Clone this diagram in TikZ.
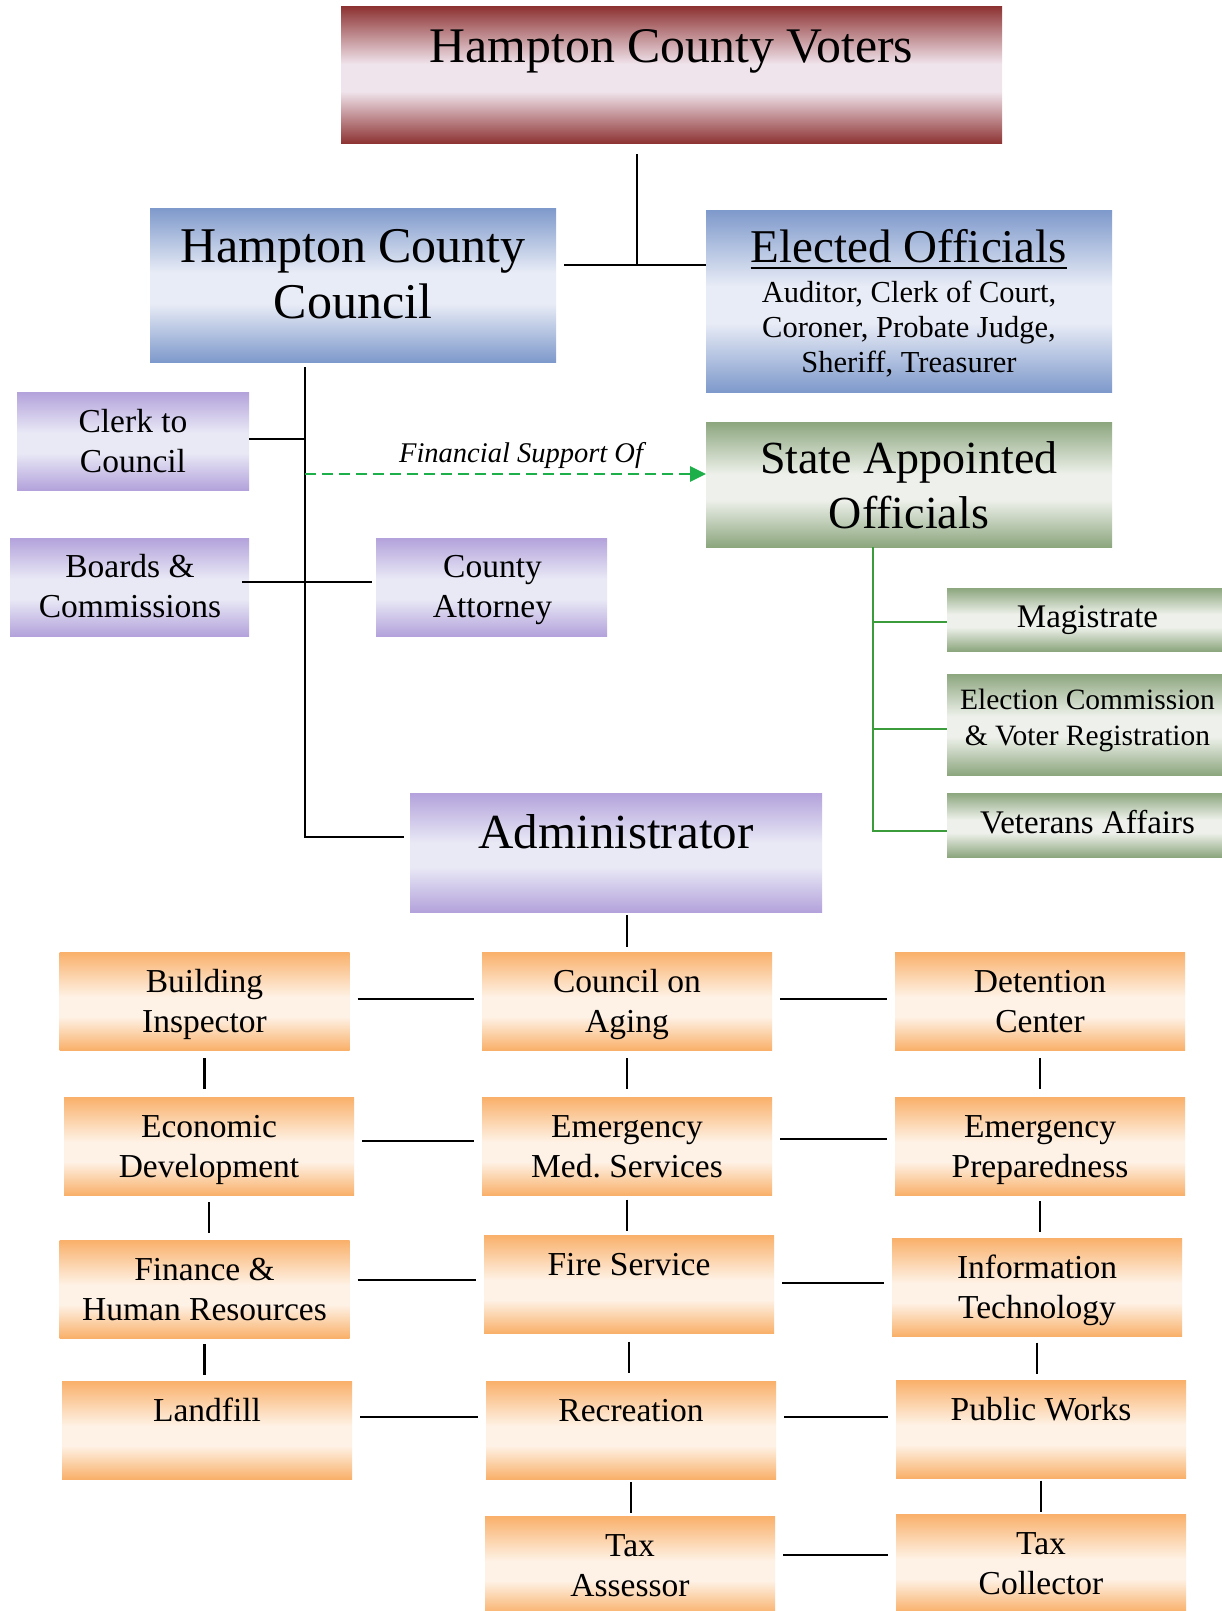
\documentclass[tikz,border=0pt]{standalone}
\usepackage{fontspec}
\setmainfont{Liberation Serif}
\usetikzlibrary{arrows.meta,calc}
\definecolor{vEdge}{HTML}{8E3434}\definecolor{vLight}{HTML}{F0E4EC}
\definecolor{bEdge}{HTML}{7E99CB}\definecolor{bLight}{HTML}{E8ECF6}
\definecolor{pEdge}{HTML}{B3A2DB}\definecolor{pLight}{HTML}{E9E9F6}
\definecolor{gEdge}{HTML}{8CA67E}\definecolor{gLight}{HTML}{EEF1EB}
\definecolor{oEdge}{HTML}{F9B06A}\definecolor{oLight}{HTML}{FEF2E6}
\definecolor{gLine}{HTML}{3A9C3A}
\definecolor{finGreen}{HTML}{1DB04A}
\pgfdeclareverticalshading{shV}{100bp}{color(0bp)=(vEdge); color(25bp)=(vEdge); color(44bp)=(vLight); color(54bp)=(vLight); color(75bp)=(vEdge); color(100bp)=(vEdge)}
\pgfdeclareverticalshading{shB}{100bp}{color(0bp)=(bEdge); color(25bp)=(bEdge); color(44bp)=(bLight); color(54bp)=(bLight); color(75bp)=(bEdge); color(100bp)=(bEdge)}
\pgfdeclareverticalshading{shP}{100bp}{color(0bp)=(pEdge); color(25bp)=(pEdge); color(44bp)=(pLight); color(54bp)=(pLight); color(75bp)=(pEdge); color(100bp)=(pEdge)}
\pgfdeclareverticalshading{shG}{100bp}{color(0bp)=(gEdge); color(25bp)=(gEdge); color(44bp)=(gLight); color(54bp)=(gLight); color(75bp)=(gEdge); color(100bp)=(gEdge)}
\pgfdeclareverticalshading{shO}{100bp}{color(0bp)=(oEdge); color(25bp)=(oEdge); color(42bp)=(oLight); color(52bp)=(oLight); color(75bp)=(oEdge); color(100bp)=(oEdge)}
\newcommand\setfs[2]{\fontsize{#1}{#2}\selectfont}
\tikzset{
  conn/.style={line width=2.9pt, draw=black},
  gconn/.style={line width=2.8pt, draw=gLine},
  finarrow/.style={line width=2.8pt, draw=finGreen, dash pattern=on 11pt off 6pt, -{Triangle[length=16pt,width=15pt,fill=finGreen]}},
  bx/.style={rectangle, draw=none, inner sep=0pt, outer sep=0pt, shade},
  vbx/.style={bx, shading=shV},
  bbx/.style={bx, shading=shB},
  pbx/.style={bx, shading=shP},
  gbx/.style={bx, shading=shG},
  obx/.style={bx, shading=shO, minimum width=290pt, minimum height=98pt},
  lbl/.style={anchor=base, inner sep=0pt, align=flush center, text width=700pt, execute at begin node=\frenchspacing},
  otxt/.style={lbl, font=\setfs{33.5}{40}},
}
\newcommand\orangebox[4]{%
  \node[obx] (#1) at (#2,#3+49) {};
  \node[otxt] (#1-t) at (#2,#3+40) {#4};}
\begin{document}
\begin{tikzpicture}[x=1pt,y=-1pt]
\useasboundingbox (0,0) rectangle (1222,1611);
\fill[white] (0,0) rectangle (1222,1611);

% top boxes
\node[vbx, minimum width=661pt, minimum height=136pt] (voters) at (671.5,75) {};
\node[lbl, font=\setfs{49.8}{56}] (voters-t) at (671.5,63) {Hampton County Voters};

\node[bbx, minimum width=406pt, minimum height=154pt] (council) at (353,285) {};
\node[lbl, font=\setfs{50}{56}] (council-t) at (353,262) {Hampton County\\Council};

\node[bbx, minimum width=406pt, minimum height=182pt] (elected) at (909,301) {};
\node[anchor=base, inner sep=0pt, font=\setfs{47}{56}] (elected-t) at (909,262.5) {Elected Officials};
\draw[line width=2.8pt] ([yshift=-5.5pt]elected-t.base west) -- ([yshift=-5.5pt]elected-t.base east);
\node[lbl, font=\setfs{30.5}{35}] (elected-s) at (909,302) {Auditor, Clerk of Court,\\Coroner, Probate Judge,\\Sheriff, Treasurer};

\node[pbx, minimum width=232pt, minimum height=98pt] (clerk) at (133,441) {};
\node[lbl, font=\setfs{33.5}{40}] (clerk-t) at (133,432) {Clerk to\\Council};

\node[gbx, minimum width=406pt, minimum height=125pt] (state) at (909,484.5) {};
\node[lbl, font=\setfs{46}{55}] (state-t) at (909,473) {State Appointed\\Officials};

\node[pbx, minimum width=239pt, minimum height=98pt] (boards) at (129.5,587) {};
\node[lbl, font=\setfs{33.5}{40}] (boards-t) at (130,577) {Boards \&\\Commissions};

\node[pbx, minimum width=231pt, minimum height=98pt] (attorney) at (491.5,587) {};
\node[lbl, font=\setfs{33.5}{40}] (attorney-t) at (492.5,577) {County\\Attorney};

\node[gbx, minimum width=281pt, minimum height=63pt] (magistrate) at (1087.5,619.5) {};
\node[lbl, font=\setfs{33}{40}] (magistrate-t) at (1087.5,627) {Magistrate};

\node[gbx, minimum width=281pt, minimum height=101pt] (election) at (1087.5,724.5) {};
\node[lbl, font=\setfs{29.5}{36}] (election-t) at (1087.5,709) {Election Commission\\\& Voter Registration};

\node[gbx, minimum width=281pt, minimum height=64pt] (veterans) at (1087.5,825) {};
\node[lbl, font=\setfs{33}{40}] (veterans-t) at (1087.5,833) {Veterans Affairs};

\node[pbx, minimum width=412pt, minimum height=119pt] (admin) at (616,852.5) {};
\node[lbl, font=\setfs{49}{56}] (admin-t) at (616,848) {Administrator};

% orange departments
\orangebox{bi}{204.5}{952}{Building\\Inspector}
\orangebox{coa}{627}{952}{Council on\\Aging}
\orangebox{dc}{1040}{952}{Detention\\Center}
\orangebox{ed}{209}{1097}{Economic\\Development}
\orangebox{ems}{627}{1097}{Emergency\\Med. Services}
\orangebox{ep}{1040}{1097}{Emergency\\Preparedness}
\orangebox{fhr}{204.5}{1240}{Finance \&\\Human Resources}
\orangebox{fs}{629}{1235}{Fire Service}
\orangebox{it}{1037}{1238}{Information\\Technology}
\orangebox{lf}{207}{1381}{Landfill}
\orangebox{rec}{631}{1381}{Recreation}
\orangebox{pw}{1041}{1380}{Public Works}
\orangebox{ta}{630}{1516}{Tax\\Assessor}
\orangebox{tc}{1041}{1514}{Tax\\Collector}

% top connectors
\coordinate (tj) at (637,265);
\draw[conn, shorten <=11pt] (voters.south -| tj) -- (tj);
\draw[conn, shorten <=8pt] (council.east |- tj) -- (elected.west |- tj);

\coordinate (sp) at (305,837);
\draw[conn, shorten <=5pt, shorten >=6pt] (council.south -| sp) -- (sp) -- (admin.west |- sp);
\draw[conn] (clerk.east |- 0,439) -- (sp |- 0,439);
\draw[conn, shorten <=-7pt, shorten >=4pt] (boards.east |- 0,582) -- (attorney.west |- 0,582);
\draw[finarrow] (sp |- 0,474) -- (state.west |- 0,474);
\node[anchor=base, inner sep=0pt, font=\itshape\setfs{28.5}{34}] (fin-t) at (521,462) {Financial Support Of};

% green connectors
\draw[gconn] ([xshift=-36pt]state.south) |- ([yshift=-6pt]veterans.west);
\draw[gconn] ([xshift=-36pt]state.south) |- ([yshift=-2.5pt]magistrate.west);
\draw[gconn] ([xshift=-36pt]state.south) |- ([yshift=-4.5pt]election.west);

% admin to departments
\draw[conn, shorten <=3pt, shorten >=5pt] (admin.south -| coa.north) -- (coa.north);

% horizontal department links
\draw[conn, shorten <=8pt, shorten >=8pt] (bi.east |- 0,999) -- (coa.west |- 0,999);
\draw[conn, shorten <=8pt, shorten >=8pt] (coa.east |- 0,999) -- (dc.west |- 0,999);
\draw[conn, shorten <=8pt, shorten >=8pt] (ed.east |- 0,1141) -- (ems.west |- 0,1141);
\draw[conn, shorten <=8pt, shorten >=8pt] (ems.east |- 0,1139) -- (ep.west |- 0,1139);
\draw[conn, shorten <=8pt, shorten >=8pt] (fhr.east |- 0,1280) -- (fs.west |- 0,1280);
\draw[conn, shorten <=8pt, shorten >=8pt] (fs.east |- 0,1283) -- (it.west |- 0,1283);
\draw[conn, shorten <=8pt, shorten >=8pt] (lf.east |- 0,1417) -- (rec.west |- 0,1417);
\draw[conn, shorten <=8pt, shorten >=8pt] (rec.east |- 0,1417) -- (pw.west |- 0,1417);
\draw[conn, shorten <=8pt, shorten >=8pt] (ta.east |- 0,1555) -- (tc.west |- 0,1555);

% vertical department links (31 px long, centred in each gap)
\foreach \a/\b in {bi/ed, ed/fhr, fhr/lf, coa/ems, ems/fs, fs/rec, rec/ta, dc/ep, ep/it, it/pw, pw/tc}
  \draw[conn] ($(\a.south)!0.5!(\a.south |- \b.north)$) ++(0,-15.5) -- ++(0,31);
\end{tikzpicture}
\end{document}
